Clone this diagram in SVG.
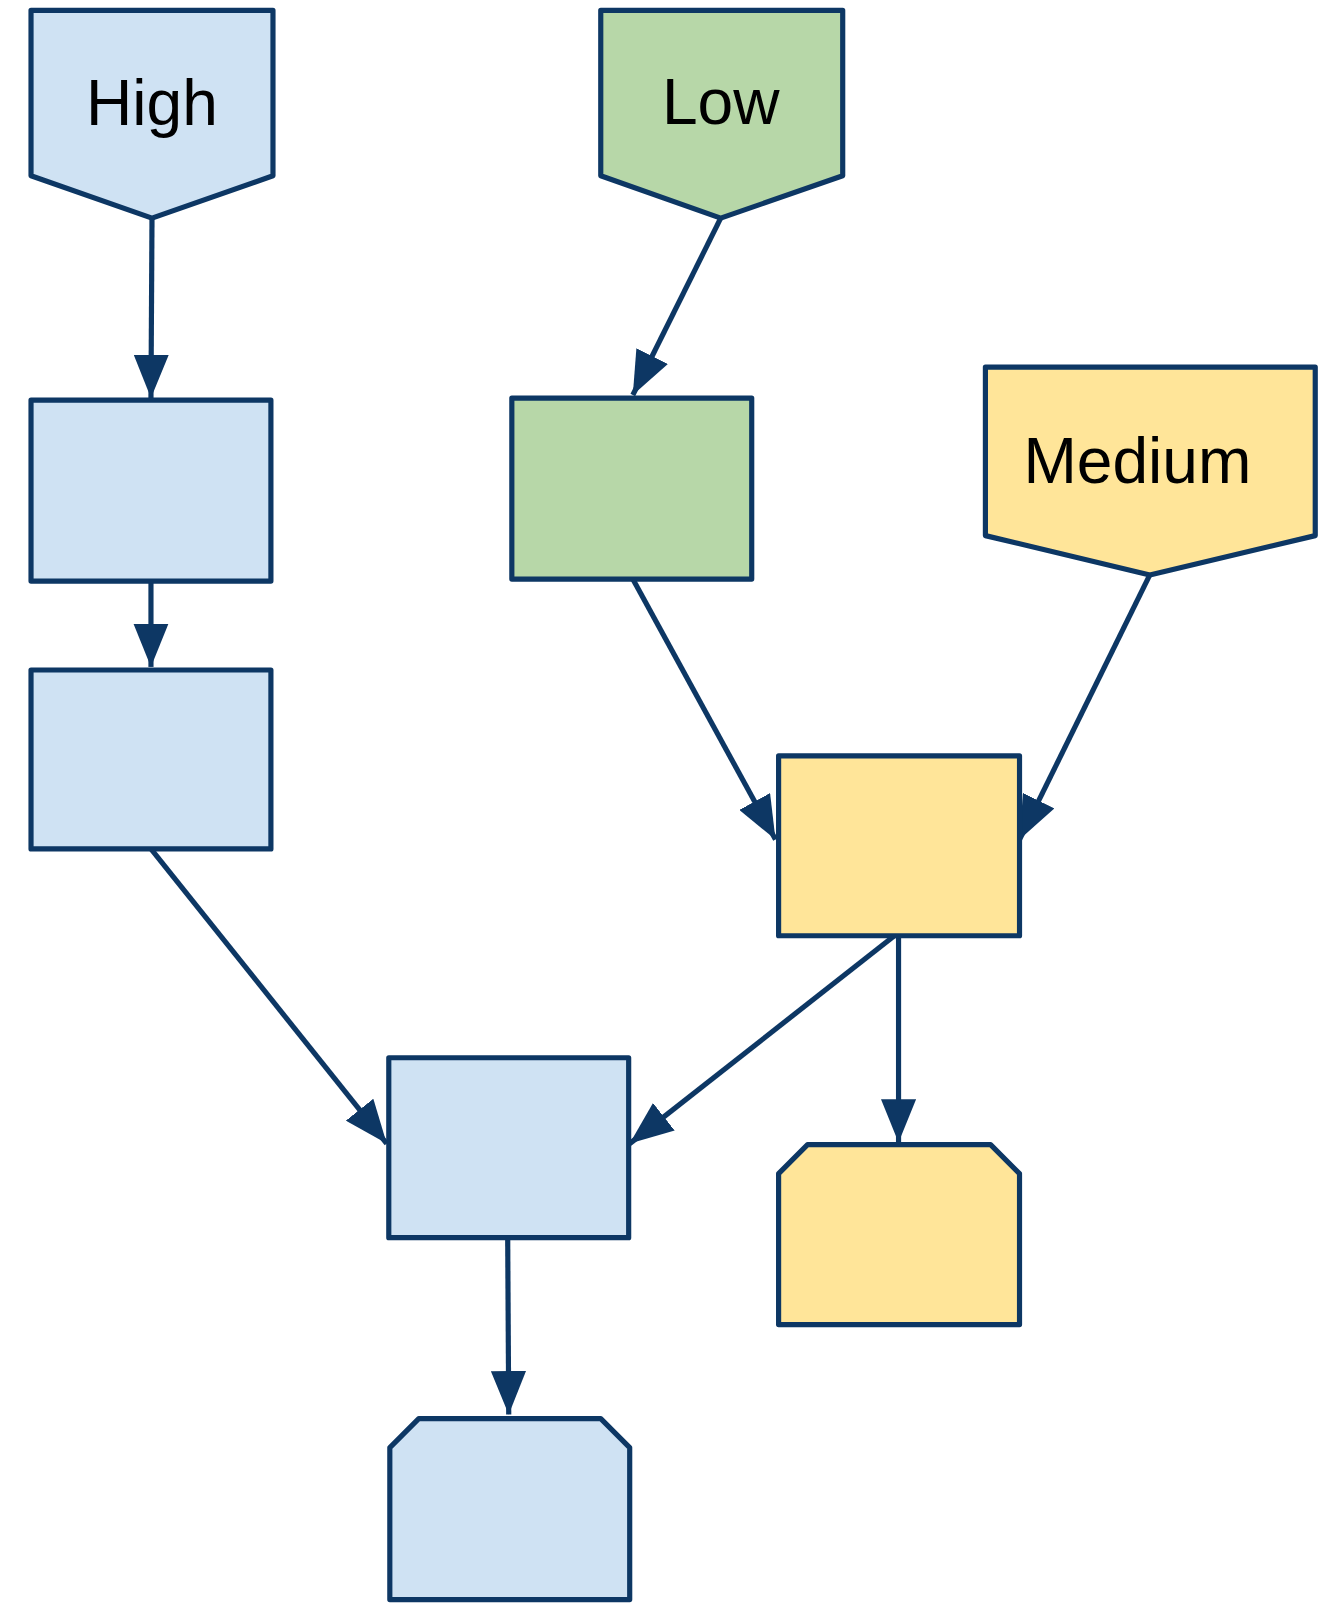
<svg xmlns="http://www.w3.org/2000/svg" width="1337" height="1621" viewBox="0 0 1337 1621">
<style>
.n{stroke:#0d3764;stroke-width:5;stroke-linejoin:round}
.b{fill:#cfe2f3}.g{fill:#b7d7a8}.y{fill:#ffe599}
.e{stroke:#0d3764;stroke-width:5;fill:none;marker-end:url(#a)}
text{font-family:"Liberation Sans",Arial,sans-serif;font-size:62px;fill:#000;text-anchor:middle}
</style>
<defs><marker id="a" markerUnits="userSpaceOnUse" markerWidth="44" markerHeight="34" refX="42" refY="17" orient="auto"><path d="M0,0L42,17L0,34z" fill="#0d3764"/></marker></defs>
<rect width="1337" height="1621" fill="#fff"/>
<g transform="scale(1.034)">
<g id="edges">
<path class="e" d="M147,211L146,385"/>
<path class="e" d="M697,211L612,382"/>
<path class="e" d="M146,562L146,645"/>
<path class="e" d="M612,560L750,812"/>
<path class="e" d="M1112,556L986,812"/>
<path class="e" d="M146,821L374,1106"/>
<path class="e" d="M865,905L609,1106"/>
<path class="e" d="M869,905L869,1105"/>
<path class="e" d="M491,1197L492,1368"/>
</g>
<g id="high"><path class="n b" d="M30,10H264V170L147,211L30,170Z"/><text x="147" y="121">High</text></g>
<g id="low"><path class="n g" d="M581,10H815V170L697,211L581,170Z"/><text x="697" y="120">Low</text></g>
<g id="medium"><path class="n y" d="M953,355H1272V518L1112,556L953,518Z"/><text x="1100" y="467">Medium</text></g>
<g id="b1"><rect class="n b" x="30" y="387" width="232" height="175"/></g>
<g id="b2"><rect class="n b" x="30" y="648" width="232" height="173"/></g>
<g id="g1"><rect class="n g" x="495" y="385" width="232" height="175"/></g>
<g id="y1"><rect class="n y" x="753" y="731" width="233" height="174"/></g>
<g id="b3"><rect class="n b" x="376" y="1023" width="232" height="174"/></g>
<g id="y2"><path class="n y" d="M781,1107H958L986,1135V1281H753V1135Z"/></g>
<g id="b4"><path class="n b" d="M405,1372H581L609,1400V1547H377V1400Z"/></g>
</g>
</svg>
